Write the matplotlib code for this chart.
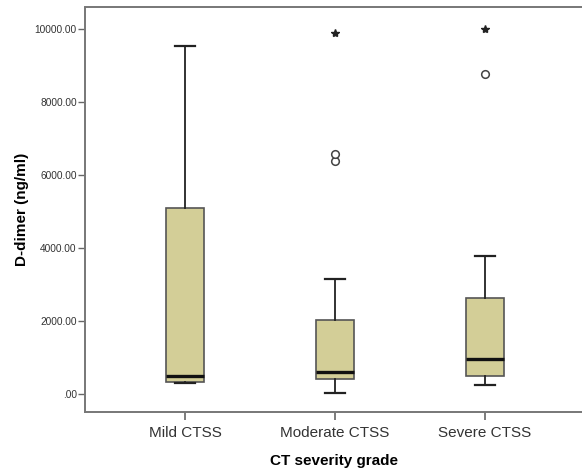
import matplotlib
matplotlib.use("Agg")
import matplotlib.pyplot as plt

categories = ["Mild CTSS", "Moderate CTSS", "Severe CTSS"]
whislo = [300, 20, 240]
q1 = [310, 400, 475]
median = [500, 610, 950]
q3 = [5100, 2020, 2630]
whishi = [9550, 3150, 3790]
outliers = [[], [6390, 6590], [8780]]
extremes = [[], [9910], [10020]]
yticks = [0, 2000, 4000, 6000, 8000, 10000]
ytick_labels = [".00", "2000.00", "4000.00", "6000.00", "8000.00", "10000.00"]

plt.rcParams['font.family'] = ['Liberation Sans', 'DejaVu Sans']

fig = plt.figure(figsize=(5.82, 4.69), dpi=100)
ax = fig.add_axes([85/582, 1-412/469, 1-85/582, (412-7.5)/469])

stats = []
for i, c in enumerate(categories):
    stats.append(dict(label=c, med=median[i], q1=q1[i], q3=q3[i],
                      whislo=whislo[i], whishi=whishi[i], fliers=[]))
pos = [1, 2, 3]
ax.bxp(stats, positions=pos, widths=0.25, patch_artist=True, showfliers=False,
       boxprops=dict(facecolor="#D3CE97", edgecolor="#555555", linewidth=1.2),
       medianprops=dict(color="#111111", linewidth=2.4),
       whiskerprops=dict(color="#222222", linewidth=1.3),
       capprops=dict(color="#222222", linewidth=1.6),
       capwidths=0.13)

for i, p in enumerate(pos):
    if outliers[i]:
        ax.plot([p]*len(outliers[i]), outliers[i], linestyle="none", marker="o",
                markersize=5.5, markerfacecolor="white", markeredgecolor="#444444",
                markeredgewidth=1.1)
    if extremes[i]:
        ax.plot([p]*len(extremes[i]), extremes[i], linestyle="none", marker="*",
                markersize=6, color="#222222")

ax.set_xlim(1 - 100/150, 3 + 97/150)
ax.set_ylim(-500, 10600)
ax.set_xticks(pos)
ax.set_xticklabels(categories, fontsize=11, color="#333333")
ax.set_yticks(yticks)
ax.set_yticklabels(ytick_labels, fontsize=7.3, color="#333333")
ax.tick_params(axis="x", length=6, width=1.2, color="#666666", pad=4)
ax.tick_params(axis="y", length=5, width=1.0, color="#666666", pad=1)

for s in ["left", "bottom", "top"]:
    ax.spines[s].set_color("#777777")
    ax.spines[s].set_linewidth(1.4)
ax.spines["right"].set_visible(False)

ax.set_xlabel("CT severity grade", fontsize=11, fontweight="bold", labelpad=10)
ax.set_ylabel("D-dimer (ng/ml)", fontsize=11, fontweight="bold", labelpad=4)

fig.savefig("out.png", dpi=100)
